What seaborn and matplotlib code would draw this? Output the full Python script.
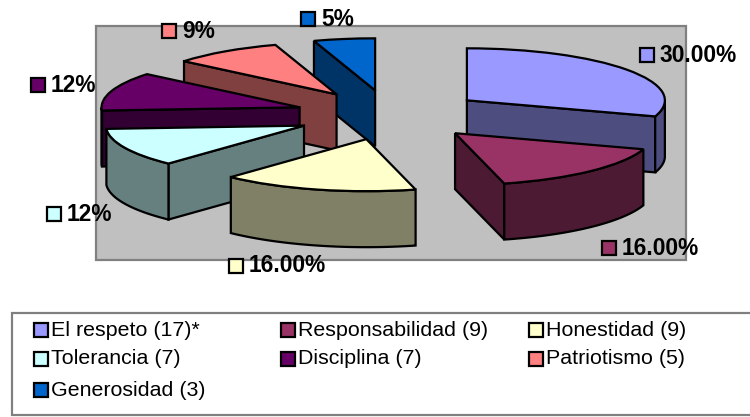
#!/usr/bin/env python3
# -*- coding: utf-8 -*-
"""Exploded 3D-look pie of values, drawn with ax.pie plus extruded side faces."""

import numpy as np
import matplotlib
matplotlib.use("Agg")
import matplotlib.pyplot as plt
from matplotlib.patches import Polygon, Rectangle
import seaborn as sns

categories = ["El respeto (17)*", "Responsabilidad (9)", "Honestidad (9)",
              "Tolerancia (7)", "Disciplina (7)", "Patriotismo (5)",
              "Generosidad (3)"]
percents = [30, 16, 16, 12, 12, 9, 5]
percent_labels = ["30.00%", "16.00%", "16.00%", "12%", "12%", "9%", "5%"]
slice_colors = ["#9999FF", "#993366", "#FFFFCC", "#CCFFFF", "#660066",
                "#FF8080", "#0066CC"]

W, H = 750, 417
# pie geometry in pixels: centre and the two radii of the squashed circle
CX, CY, RX, RY = 390, 115, 198, 52
DEPTH = 56 / RY
EXPLODE = 0.48
LINE = 1.6

# back to front painting order for the slices
PAINT_ORDER = [6, 5, 4, 3, 0, 1, 2]

# swatch left edge, swatch centre y, for each data label
LABEL_POS = [(640, 55), (602, 248), (229, 266), (47, 214), (31, 85), (162, 31), (301, 19)]
# legend swatch left edge / row centre for each entry
LEGEND_X = [34, 281, 529]
LEGEND_Y = [330, 359, 390]

sns.set_theme(style="white")
plt.rcParams["font.family"] = ["Liberation Sans", "DejaVu Sans"]
palette = sns.color_palette(slice_colors)


def _swatch(ax, x, yc, color, size=14):
    ax.add_patch(Rectangle((x, yc - size / 2), size, size, facecolor=color,
                           edgecolor="black", linewidth=LINE))


def _draw_background(ax):
    """Grey plot wall, data labels and the legend box, all in pixel coordinates."""
    ax.set_xlim(0, W)
    ax.set_ylim(H, 0)
    ax.axis("off")
    ax.add_patch(Rectangle((96, 26), 590, 234, facecolor="#C0C0C0",
                           edgecolor="#808080", linewidth=1.6))
    ax.add_patch(Rectangle((12, 313), 800, 102, facecolor="white",
                           edgecolor="#808080", linewidth=1.6, clip_on=True))

    for (x, yc), label, color in zip(LABEL_POS, percent_labels, palette):
        _swatch(ax, x, yc, color)
        ax.text(x + 20, yc, label, fontsize=16.4, fontweight="bold",
                va="center", ha="left", color="black")

    for i, (name, color) in enumerate(zip(categories, palette)):
        x = LEGEND_X[i % 3]
        yc = LEGEND_Y[i // 3]
        _swatch(ax, x, yc, color)
        ax.text(x + 17, yc, name, fontsize=15.4, va="center", ha="left", color="black")


def _side_faces(ax, wedge, color, zorder):
    """Extrude one pie wedge downwards: rim plus whichever cut faces look at us."""
    cx, cy = wedge.center
    t1, t2 = wedge.theta1, wedge.theta2
    dark = tuple(np.array(color) * 0.5)

    def add(points):
        ax.add_patch(Polygon(points, closed=True, facecolor=dark, edgecolor="black",
                             linewidth=LINE, joinstyle="miter", zorder=zorder))

    for t, visible in ((t1, np.cos(np.radians(t1)) > 1e-6),
                       (t2, np.cos(np.radians(t2)) < -1e-6)):
        if visible:
            px = cx + np.cos(np.radians(t))
            py = cy + np.sin(np.radians(t))
            add([(cx, cy), (px, py), (px, py - DEPTH), (cx, cy - DEPTH)])

    angles = np.radians(np.linspace(t1, t2, 300))
    angles = angles[np.sin(angles) < 0]
    if len(angles) > 1:
        xs = cx + np.cos(angles)
        ys = cy + np.sin(angles)
        top = np.column_stack([xs, ys])
        bottom = np.column_stack([xs, ys - DEPTH])[::-1]
        add(np.vstack([top, bottom]))


def main():
    fig = plt.figure(figsize=(W / 100, H / 100), dpi=100, facecolor="white")
    ax_bg = fig.add_axes([0, 0, 1, 1], zorder=0)
    _draw_background(ax_bg)

    ax = fig.add_axes([0, 0, 1, 1], zorder=1)
    ax.patch.set_visible(False)
    wedges, _ = ax.pie(percents, colors=palette, startangle=90, counterclock=False,
                       explode=[EXPLODE] * len(percents), radius=1,
                       wedgeprops={"edgecolor": "black", "linewidth": LINE})
    # unit circle -> squashed ellipse in the figure
    ax.set_aspect("auto")
    ax.set_xlim(-CX / RX, (W - CX) / RX)
    ax.set_ylim(-(H - CY) / RY, CY / RY)

    for z, idx in enumerate(PAINT_ORDER):
        _side_faces(ax, wedges[idx], palette[idx], 2 * z + 2)
        wedges[idx].set_zorder(2 * z + 3)

    fig.savefig("out.png", dpi=100)
    plt.close(fig)


if __name__ == "__main__":
    main()
